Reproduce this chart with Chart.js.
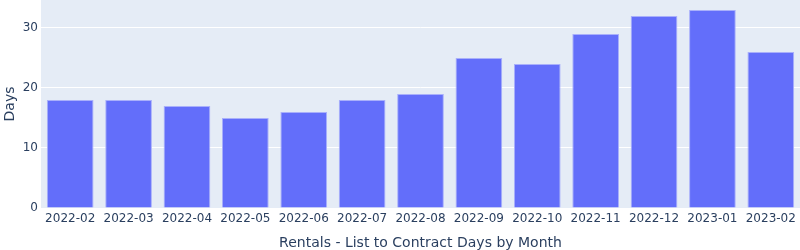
<!DOCTYPE html>
<html>
<head>
<meta charset="utf-8">
<script src="https://cdn.jsdelivr.net/npm/chart.js@4"></script>
<style>
  html, body { margin: 0; padding: 0; background: #fff; }
  #wrap { width: 800px; height: 250px; position: relative; }
</style>
</head>
<body>
<div id="wrap"><canvas id="chart-rentals"></canvas></div>
<script>
  // 月別 掲載〜契約日数
  var months = ['2022-02', '2022-03', '2022-04', '2022-05', '2022-06', '2022-07', '2022-08',
                '2022-09', '2022-10', '2022-11', '2022-12', '2023-01', '2023-02'];
  var days = [18, 18, 17, 15, 16, 18, 19, 25, 24, 29, 32, 33, 26];
  var yTicks = [0, 10, 20, 30];

  var FONT = '"DejaVu Sans", Verdana, sans-serif';
  var TEXT = '#2a3f5f';

  // プロット領域の背景
  var plotBg = {
    id: 'plotBg',
    beforeDraw: function(c) {
      var a = c.chartArea, ctx = c.ctx;
      ctx.save();
      ctx.fillStyle = '#e5ecf6';
      ctx.fillRect(a.left, a.top, a.right - a.left, a.bottom - a.top);
      ctx.restore();
    }
  };

  function noPad(s) {
    s.paddingTop = 0; s.paddingBottom = 0;
    s.paddingLeft = 0; s.paddingRight = 0;
  }

  new Chart(document.getElementById('chart-rentals'), {
    type: 'bar',
    data: {
      labels: months,
      datasets: [{
        label: 'Days',
        data: days,
        backgroundColor: '#636efa',
        borderColor: '#a9b0fb',
        borderWidth: 1,
        categoryPercentage: 1,
        barPercentage: 0.8
      }]
    },
    options: {
      responsive: true,
      maintainAspectRatio: false,
      animation: false,
      layout: { padding: 0 },
      plugins: {
        legend: { display: false },
        tooltip: { enabled: false }
      },
      scales: {
        x: {
          grid: { display: false, drawTicks: false },
          border: { display: false },
          ticks: { color: TEXT, font: { family: FONT, size: 12 }, padding: 4, maxRotation: 0, autoSkip: false },
          title: { display: true, text: 'Rentals - List to Contract Days by Month', color: TEXT,
                   font: { family: FONT, size: 14 }, padding: { top: 0, bottom: -2 } },
          afterFit: function(s) { s.height = 42; noPad(s); }
        },
        y: {
          min: 0,
          max: 34.65,
          grid: { color: '#ffffff', lineWidth: 1, drawTicks: false },
          border: { display: false },
          ticks: { color: TEXT, font: { family: FONT, size: 12 }, padding: 3, stepSize: 10 },
          title: { display: true, text: 'Days', color: TEXT,
                   font: { family: FONT, size: 14 }, padding: { top: 2, bottom: 0 } },
          afterBuildTicks: function(s) {
            s.ticks = yTicks.map(function(v) { return { value: v }; });
          },
          afterFit: function(s) { s.width = 41; noPad(s); }
        }
      }
    },
    plugins: [plotBg]
  });
</script>
</body>
</html>
